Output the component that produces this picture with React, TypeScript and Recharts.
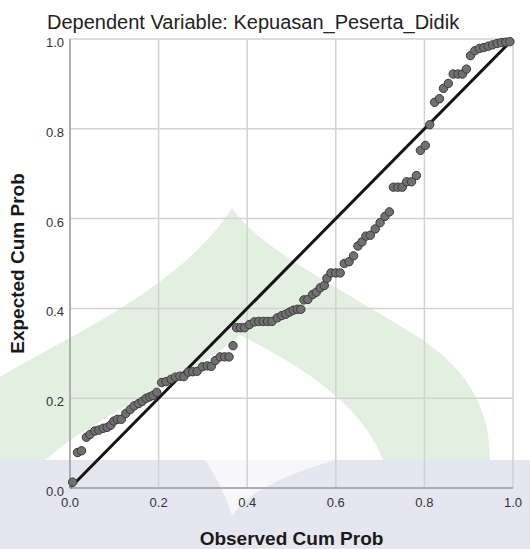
import {
  CartesianGrid,
  Label,
  ReferenceLine,
  Scatter,
  ScatterChart,
  XAxis,
  YAxis,
} from "recharts";

const observedCumProb = [
  0.006, 0.017, 0.026, 0.037, 0.045, 0.056, 0.065, 0.075, 0.084, 0.092,
  0.099, 0.107, 0.116, 0.126, 0.136, 0.145, 0.155, 0.163, 0.172, 0.18,
  0.187, 0.196, 0.207, 0.217, 0.228, 0.238, 0.248, 0.257, 0.267, 0.277,
  0.287, 0.299, 0.31, 0.319, 0.328, 0.339, 0.349, 0.359, 0.368, 0.376,
  0.385, 0.394, 0.405, 0.416, 0.426, 0.436, 0.446, 0.456, 0.468, 0.478,
  0.487, 0.496, 0.504, 0.513, 0.521, 0.528, 0.537, 0.548, 0.556, 0.565,
  0.574, 0.58, 0.589, 0.6, 0.61, 0.619, 0.63, 0.64, 0.65, 0.659,
  0.668, 0.678, 0.689, 0.7, 0.711, 0.721, 0.73, 0.74, 0.75, 0.76,
  0.771, 0.782, 0.791, 0.802, 0.812, 0.823, 0.834, 0.843, 0.854, 0.865,
  0.876, 0.886, 0.895, 0.904, 0.914, 0.924, 0.934, 0.944, 0.954, 0.964,
  0.974, 0.984, 0.993,
];

const expectedCumProb = [
  0.013, 0.079, 0.083, 0.113, 0.119, 0.127, 0.129, 0.133, 0.135, 0.14,
  0.149, 0.153, 0.153, 0.166, 0.175, 0.183, 0.188, 0.193, 0.2, 0.203,
  0.206, 0.213, 0.235, 0.237, 0.242, 0.247, 0.249, 0.248, 0.258, 0.259,
  0.26, 0.27, 0.272, 0.271, 0.284, 0.292, 0.292, 0.292, 0.317, 0.357,
  0.357, 0.357, 0.364, 0.37, 0.371, 0.371, 0.371, 0.371, 0.379, 0.384,
  0.387, 0.392, 0.396, 0.398, 0.398, 0.419, 0.42, 0.431, 0.436, 0.446,
  0.451, 0.467, 0.479, 0.479, 0.479, 0.5, 0.504, 0.517, 0.539, 0.548,
  0.561, 0.563, 0.577, 0.591, 0.605, 0.615, 0.67, 0.67, 0.67, 0.682,
  0.682, 0.696, 0.752, 0.763, 0.809, 0.859, 0.867, 0.89, 0.901, 0.922,
  0.922, 0.922, 0.933, 0.963, 0.974, 0.979, 0.981, 0.984, 0.987, 0.99,
  0.992, 0.993, 0.994,
];

const axisTicks = [0, 0.2, 0.4, 0.6, 0.8, 1];

const data = observedCumProb.map((x, i) => ({ x, y: expectedCumProb[i] }));

const XTick = ({ x, y, payload }: any) => (
  <text x={x} y={y + 11} textAnchor="middle" fontSize={13} fill="#333">
    {Number(payload.value).toFixed(1)}
  </text>
);

const YTick = ({ x, y, payload }: any) => (
  <text x={x} y={y + 8} textAnchor="end" fontSize={13} fill="#333">
    {Number(payload.value).toFixed(1)}
  </text>
);

const Dot = ({ cx, cy }: any) => (
  <circle cx={cx} cy={cy} r={4.2} fill="#707070" stroke="#3a3a3a" strokeWidth={1} />
);

// watermark behind the chart
function Watermark() {
  return (
    <svg width={530} height={549} style={{ position: "absolute", left: 0, top: 0 }}>
      <path
        d="M0,377 C60,340 180,290 232,208 C262,250 330,282 420,338 C470,372 490,410 490,460 L383,460 C368,420 330,380 240,335 C200,370 130,400 66,443 L45,460 L0,460 Z"
        fill="#e3efe0"
      />
      <rect x={0} y={460} width={530} height={89} fill="#e6e6f0" />
      <path d="M205,460 Q224,488 232,516 Q252,484 335,460 Z" fill="#f7f7fa" />
    </svg>
  );
}

export default function App() {
  return (
    <div
      style={{
        position: "absolute",
        left: 0,
        top: 0,
        width: 530,
        height: 549,
        background: "#fff",
        fontFamily: "'Liberation Sans', Arial, sans-serif",
      }}
    >
      <Watermark />
      <div
        style={{
          position: "absolute",
          left: 47,
          top: 11,
          fontSize: 20,
          lineHeight: "23px",
          color: "#222",
          whiteSpace: "nowrap",
        }}
      >
        Dependent Variable: Kepuasan_Peserta_Didik
      </div>
      <div style={{ position: "absolute", left: 0, top: 0 }}>
        <ScatterChart
          width={530}
          height={549}
          margin={{ top: 39, right: 17, bottom: 0, left: 0 }}
        >
          <CartesianGrid stroke="#d2d2d2" strokeWidth={1.5} />
          <XAxis
            type="number"
            dataKey="x"
            domain={[0, 1]}
            ticks={axisTicks}
            height={61}
            tickLine={false}
            tickSize={4}
            tickMargin={4}
            tick={<XTick />}
            axisLine={{ stroke: "#a0a0a0", strokeWidth: 1.5 }}
          >
            <Label
              value="Observed Cum Prob"
              position="insideBottom"
              offset={4}
              style={{ fontSize: 19, fontWeight: "bold", fill: "#1a1a1a" }}
            />
          </XAxis>
          <YAxis
            type="number"
            dataKey="y"
            domain={[0, 1]}
            ticks={axisTicks}
            width={70}
            tickLine={false}
            tickSize={4}
            tickMargin={2}
            tick={<YTick />}
            axisLine={{ stroke: "#a0a0a0", strokeWidth: 1.5 }}
          >
            <Label
              value="Expected Cum Prob"
              angle={-90}
              position="insideLeft"
              offset={17}
              style={{ fontSize: 19, fontWeight: "bold", fill: "#1a1a1a", textAnchor: "middle" }}
            />
          </YAxis>
          <Scatter data={data} shape={<Dot />} isAnimationActive={false} />
          <ReferenceLine
            segment={[
              { x: 0, y: 0 },
              { x: 1, y: 1 },
            ]}
            stroke="#141414"
            strokeWidth={3}
          />
        </ScatterChart>
      </div>
    </div>
  );
}
